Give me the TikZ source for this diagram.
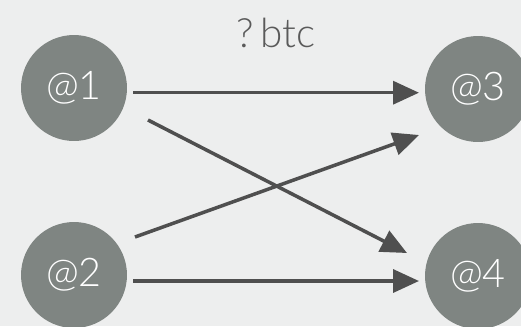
\documentclass[tikz,border=0pt]{standalone}
\usepackage{fontspec}
\setmainfont{Lato Light}
\usepackage{tikz}
\usetikzlibrary{arrows.meta,calc}
\definecolor{PageGray}{HTML}{EDEEEE}
\definecolor{AddrGray}{HTML}{7F8582}
\definecolor{LinkGray}{HTML}{4F4F4F}
\definecolor{AmtGray}{HTML}{5A5A5A}

\begin{document}
\begin{tikzpicture}[x=0.02cm, y=-0.02cm,
    addr/.style={circle, fill=AddrGray, minimum size=2.12cm, inner sep=0pt, text=white, font=\fontsize{22.5}{26}\selectfont},
    link/.style={draw=LinkGray, line width=2pt, -{Triangle[length=0.52cm, width=0.46cm]}},
    amount/.style={font=\fontsize{23}{27}\selectfont, text=AmtGray}
]
    \fill[PageGray] (0,0) rectangle (521,326);
    \useasboundingbox (0,0) rectangle (521,326);

    \node[amount] (amt) at (276,33) {?\,btc};

    \node[addr] (a1) at (74,88) {@1};
    \node[addr] (a2) at (74,275) {@2};
    \node[addr] (a3) at (478,89) {@3};
    \node[addr] (a4) at (478,276) {@4};

    \draw[link] ([shift={(59,4.7)}]a1.center) -- ([shift={(-59,3.7)}]a3.center);
    \draw[link] ([shift={(74,32)}]a1.center) -- ([shift={(-71,-23)}]a4.center);
    \draw[link] ([shift={(61,-38)}]a2.center) -- ([shift={(-59,46)}]a3.center);
    \draw[link] ([shift={(59,6)}]a2.center) -- ([shift={(-59,5)}]a4.center);
\end{tikzpicture}
\end{document}
